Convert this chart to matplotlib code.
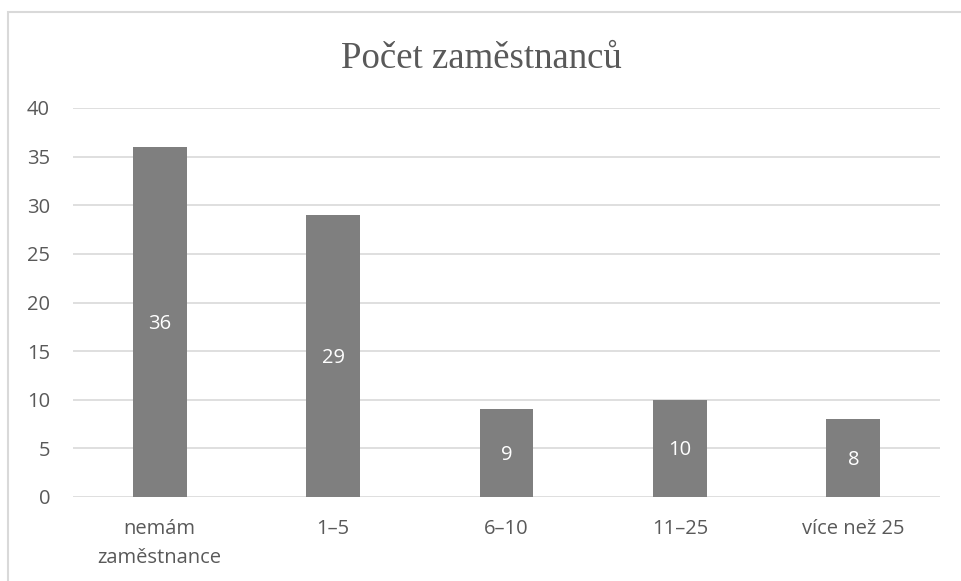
import matplotlib
matplotlib.use("Agg")
from matplotlib import pyplot as plt
from matplotlib.patches import Rectangle

categories = ["nemám\nzaměstnance", "1–5", "6–10", "11–25", "více než 25"]
counts = [36, 29, 9, 10, 8]
yticks = [0, 5, 10, 15, 20, 25, 30, 35, 40]

TEXT = "#595959"
BAR = "#7f7f7f"
GRID = "#d9d9d9"

plt.rcParams['font.family'] = ['Open Sans', 'DejaVu Sans']

fig = plt.figure(figsize=(9.62, 5.81), dpi=100)
ax = fig.add_axes([73/962, 1 - 497/581, (940-73)/962, (497-108)/581])

x = list(range(len(categories)))
bars = ax.bar(x, counts, width=0.31, color=BAR, zorder=2)
for b, v in zip(bars, counts):
    ax.text(b.get_x() + b.get_width()/2, v/2 - 0.2, str(v), ha='center', va='center',
            color='white', fontsize=14.5)

ax.set_xlim(-0.5, len(categories) - 0.5)
ax.set_ylim(0, 40)
ax.set_yticks(yticks)
ax.set_xticks(x)
ax.set_xticklabels(categories, linespacing=1.6)
ax.tick_params(axis='both', length=0, colors=TEXT, labelsize=14.5)
ax.tick_params(axis='y', pad=16.5)
ax.tick_params(axis='x', pad=16)
ax.grid(axis='y', color=GRID, linewidth=1.2, zorder=0)
for s in ax.spines.values():
    s.set_visible(False)

fig.text(0.5, 1 - 59/581, "Počet zaměstnanců", ha='center', va='center',
         fontsize=26.5, color=TEXT, family=['Liberation Serif', 'DejaVu Serif'])

# outer chart border (cropped at right and bottom)
fig.patches.append(Rectangle((8/962, -0.1), 1.2, 1 - 12/581 + 0.1,
                             transform=fig.transFigure, fill=False,
                             edgecolor=GRID, linewidth=1.5))

fig.savefig("out.png", dpi=100)
